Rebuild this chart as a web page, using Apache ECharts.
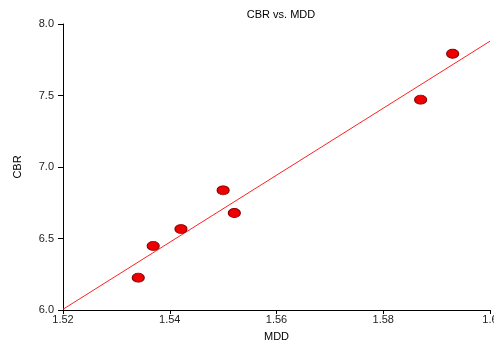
<!DOCTYPE html>
<html><head><meta charset="utf-8">
<script src="https://cdn.jsdelivr.net/npm/echarts@6/dist/echarts.min.js"></script>
<style>html,body{margin:0;padding:0;background:#fff}#c{width:494px;height:343px}</style>
</head><body><div id="c"></div>
<script>
var mdd = [1.5341, 1.5369, 1.5421, 1.5500, 1.5521, 1.5870, 1.5930];
var cbr = [6.226, 6.448, 6.566, 6.837, 6.678, 7.471, 7.792];
var fitX = [1.52, 1.60];
var fitY = [6.005, 7.880];
var xTicks = ['1.52', '1.54', '1.56', '1.58', '1.6'];
var yTicks = ['6.0', '6.5', '7.0', '7.5', '8.0'];

var pts = mdd.map(function (x, i) { return [x, cbr[i]]; });
var fit = fitX.map(function (x, i) { return [x, fitY[i]]; });
var font = 'Liberation Sans, Arial, sans-serif';
var chart = echarts.init(document.getElementById('c'));
chart.setOption({
  animation: false,
  title: { text: 'CBR vs. MDD', left: 276, top: 4, textAlign: 'center',
    textStyle: { fontFamily: font, fontSize: 11, fontWeight: 'normal', color: '#000' } },
  grid: { left: 63, right: 4, top: 24, bottom: 33, containLabel: false, outerBoundsMode: 'none' },
  xAxis: {
    type: 'value', min: 1.52, max: 1.6, interval: 0.02,
    name: 'MDD', nameLocation: 'middle', nameGap: 21,
    nameTextStyle: { fontFamily: font, fontSize: 11, color: '#000' },
    axisLine: { lineStyle: { color: '#000', width: 1 } },
    axisTick: { show: true, length: 4, lineStyle: { color: '#000' } },
    axisLabel: { fontFamily: font, fontSize: 11, color: '#222', margin: 4,
      formatter: function (v) { var i = Math.round((v - 1.52) / 0.02); return xTicks[i]; } },
    splitLine: { show: false }
  },
  yAxis: {
    type: 'value', min: 6.0, max: 8.0, interval: 0.5,
    name: 'CBR', nameLocation: 'middle', nameGap: 40, nameRotate: 90,
    nameTextStyle: { fontFamily: font, fontSize: 11, color: '#000' },
    axisLine: { show: true, lineStyle: { color: '#000', width: 1 } },
    axisTick: { show: true, length: 5, lineStyle: { color: '#000' } },
    axisLabel: { fontFamily: font, fontSize: 11, color: '#222', margin: 9,
      formatter: function (v) { var i = Math.round((v - 6) / 0.5); return yTicks[i]; } },
    splitLine: { show: false }
  },
  series: [
    { type: 'line', data: fit, symbol: 'none', lineStyle: { color: '#ff2020', width: 1 }, z: 2 },
    { type: 'scatter', data: pts, symbol: 'circle', symbolSize: [12, 9],
      itemStyle: { color: '#ee0000', borderColor: '#880000', borderWidth: 1, opacity: 1 }, z: 3 }
  ]
});
</script></body></html>
